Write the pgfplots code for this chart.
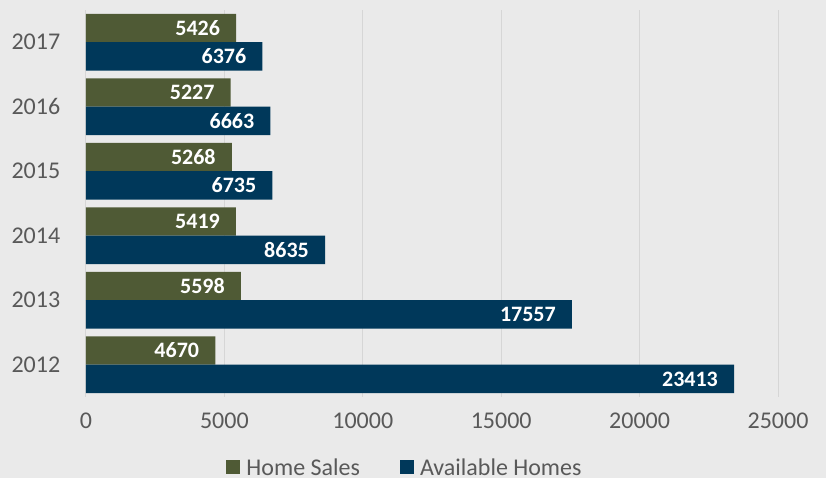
\documentclass[border=0pt]{standalone}
\usepackage{fontspec}
\setmainfont{Carlito}
\usepackage{pgfplots}
\pgfplotsset{compat=1.18}
\usetikzlibrary{backgrounds}
\definecolor{bgGray}{HTML}{EAEAEA}
\definecolor{gridGray}{HTML}{D6D6D6}
\definecolor{txtGray}{HTML}{595959}
\definecolor{salesOlive}{HTML}{4F5A35}
\definecolor{homesNavy}{HTML}{00385A}

% year index: 0 = 2012 ... 5 = 2017
\pgfplotstableread{
idx sales homes
0 4670 23413
1 5598 17557
2 5419 8635
3 5268 6735
4 5227 6663
5 5426 6376
}\housingdata

\begin{document}
\begin{tikzpicture}
\begin{axis}[
    at={(0pt,0pt)}, anchor=south west,
    scale only axis,
    width=692pt, height=387pt,
    xbar,
    bar width=0.44,
    xmin=0, xmax=25000,
    ymin=-0.5, ymax=5.5,
    xtick={0,5000,...,25000},
    ytick={0,...,5},
    yticklabels={2012,2013,2014,2015,2016,2017},
    scaled x ticks=false,
    /pgf/number format/assume math mode=true,
    xticklabel={\pgfmathprintnumber[fixed,1000 sep={}]{\tick}},
    tick style={draw=none},
    axis line style={draw=none},
    xmajorgrids=true,
    major grid style={draw=gridGray, line width=1pt},
    ticklabel style={font=\fontsize{24}{28}\selectfont, text=txtGray},
    xticklabel style={yshift=-12pt},
    yticklabel style={xshift=-18pt},
    nodes near coords,
    nodes near coords style={
        /pgf/number format/fixed, /pgf/number format/1000 sep={},
        anchor=east, inner sep=0pt, xshift=-16pt,
        text=white, font=\fontsize{22}{26}\selectfont\bfseries},
    legend columns=2,
    legend style={
        at={(0.461,-0.183)}, anchor=center,
        draw=none, fill=none,
        font=\fontsize{24}{28}\selectfont, text=txtGray,
        /tikz/every even column/.append style={column sep=38pt},
    },
    legend image code/.code={
        \fill[#1] (0pt,-6pt) rectangle (14pt,8pt);
        \path (18pt,0pt);
    },
]
\addplot[fill=salesOlive, draw=none, bar shift=0.22] table[x=sales, y=idx] {\housingdata};
\addlegendentry{Home Sales}
\addplot[fill=homesNavy, draw=none, bar shift=-0.22] table[x=homes, y=idx] {\housingdata};
\addlegendentry{Available Homes}
\end{axis}
\begin{scope}[on background layer]
  \fill[bgGray] (-86pt,-81pt) rectangle (740pt,397pt);
\end{scope}
\end{tikzpicture}
\end{document}
